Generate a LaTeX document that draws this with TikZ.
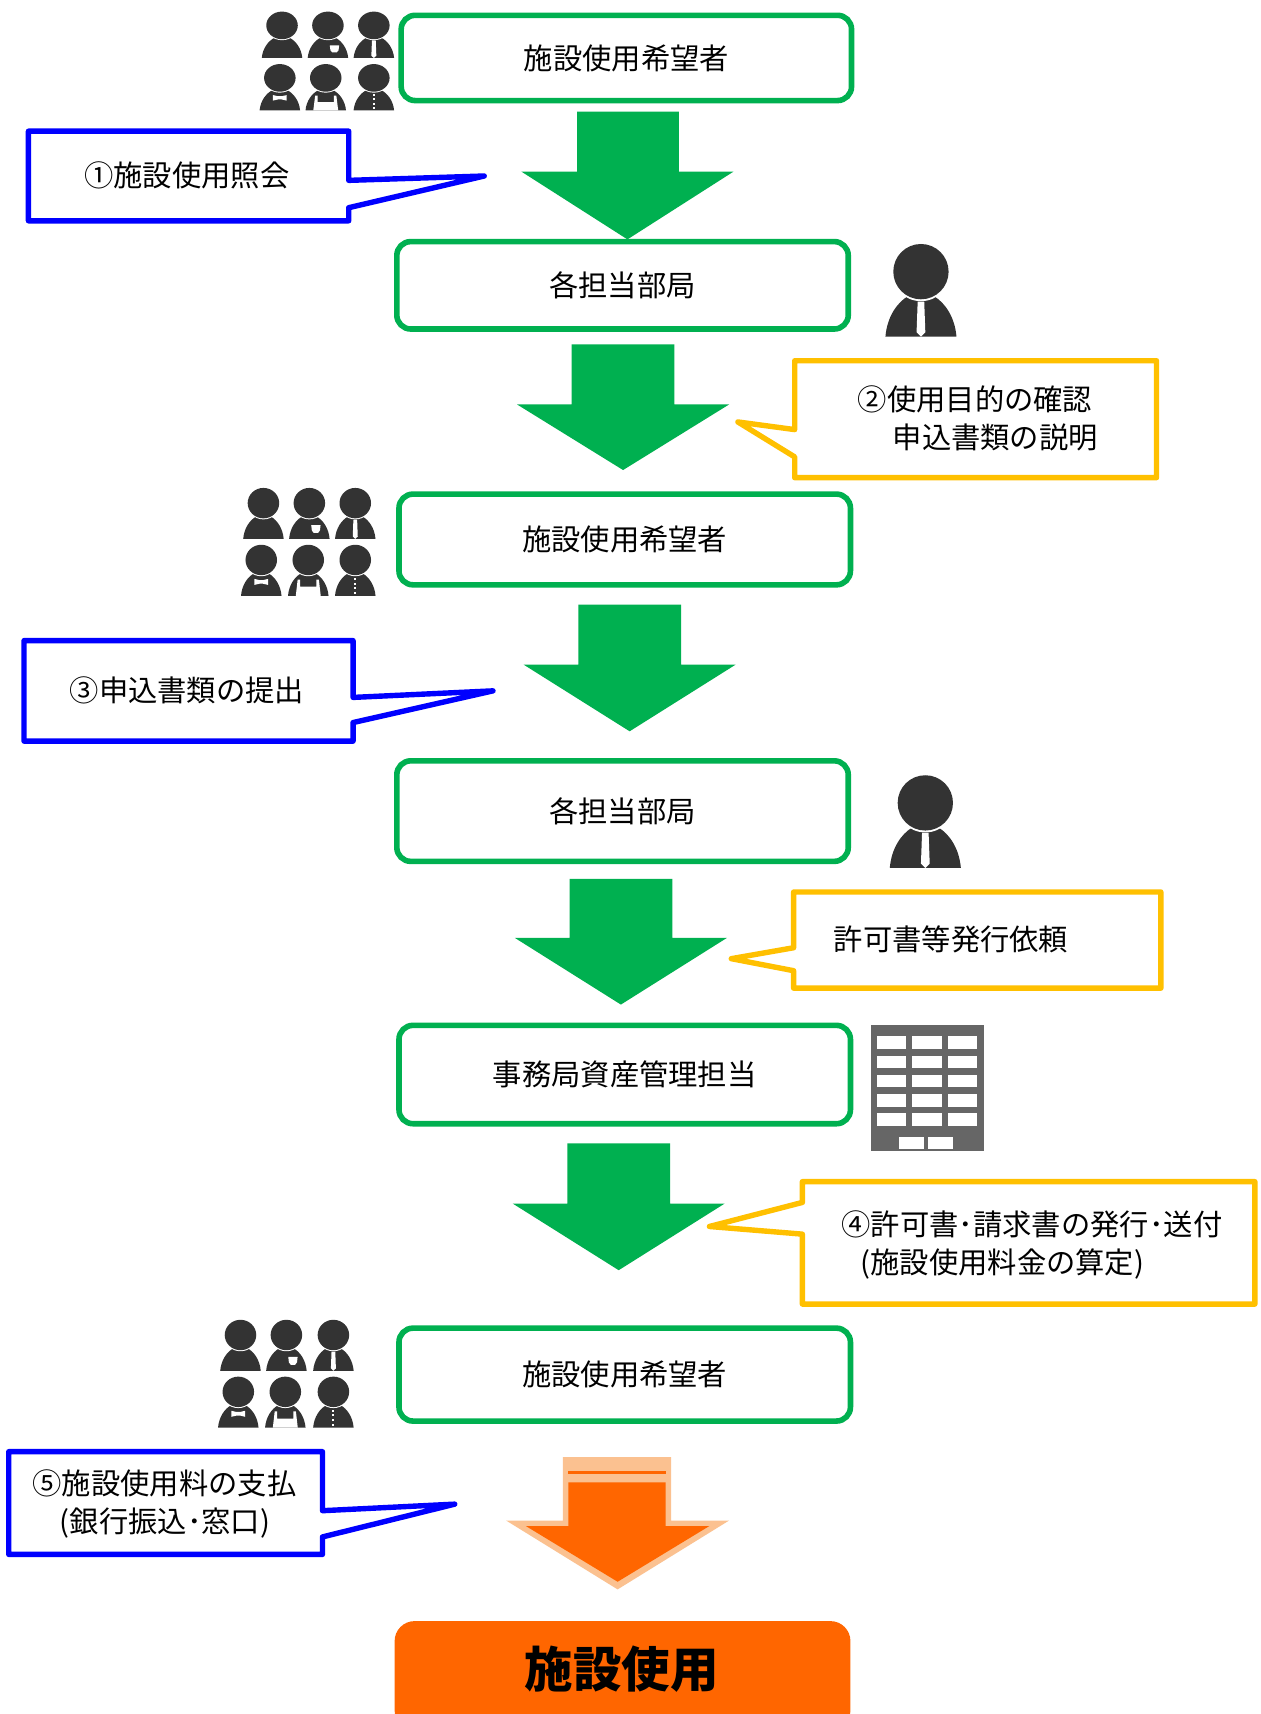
\documentclass[tikz,border=0pt]{standalone}
\usepackage{fontspec}
\setmainfont{Noto Sans CJK JP}
\definecolor{flowgreen}{HTML}{00B050}
\definecolor{callblue}{HTML}{0000FF}
\definecolor{callyellow}{HTML}{FFC000}
\definecolor{endorange}{HTML}{FF6600}
\definecolor{paleorange}{HTML}{FBC190}
\definecolor{figdark}{HTML}{333333}
\definecolor{bldg}{HTML}{666666}
\tikzset{
  x=1.0931pt,y=-1.0931pt,
  flowbox/.style={draw=flowgreen,line width=5.6pt,fill=white,rounded corners=14pt,inner sep=0pt,font=\fontsize{29.3}{34}\selectfont},
  endbox/.style={fill=endorange,rounded corners=20pt,inner sep=0pt},
  endtext/.style={inner sep=0pt,font=\fontsize{48.5}{54}\selectfont\bfseries},
  blockarrow/.style={fill=flowgreen},
  callb/.style={draw=callblue,line width=5.4pt,fill=white,line join=round},
  cally/.style={draw=callyellow,line width=5.4pt,fill=white,line join=round},
  calltext/.style={inner sep=0pt,font=\fontsize{29.3}{34}\selectfont},
  figure/.style={fill=figdark},
  figwhite/.style={fill=white},
}
% name, x1, y1, x2, y2, text
\newcommand\flowboxat[6]{\node[flowbox,minimum width={1.0931*(#4-#2)*1pt},minimum height={1.0931*(#5-#3)*1pt}] (#1) at ({(#2+#4)/2},{(#3+#5)/2}) {#6};}
% x left shaft, x right shaft, y top, y shoulder, x left head, x right head, x tip, y tip
\newcommand\flowdown[8]{\fill[blockarrow] (#1,#3) -- (#2,#3) -- (#2,#4) -- (#6,#4) -- (#7,#8) -- (#5,#4) -- (#1,#4) -- cycle;}
% kind 1 plain 2 badge 3 tie 4 bow 5 apron 6 buttons; x, ybottom, xscale, yscale
\newcommand\persona[5]{\begin{scope}[shift={(#2,#3)},xscale=#4,yscale=#5]
  \fill[figure] (-32.5,0) .. controls (-31,-18) and (-22,-31) .. (-12,-37) -- (12,-37) .. controls (22,-31) and (31,-18) .. (32.5,0) -- cycle;
  \fill[figwhite] (0,-59.5) circle (27);
  \fill[figure] (0,-59.5) circle (25.3);
  \ifcase#1\or
  \or \fill[figwhite] (3,-23) -- (18,-23) -- (17,-14) -- (14,-10) -- (7,-10) -- (4,-14) -- cycle;
  \or \fill[figwhite] (-3,-32) -- (3,-32) -- (4,-4) -- (0,0) -- (-4,-4) -- cycle;
  \or \fill[figwhite] (-11,-28) -- (-3,-26) -- (3,-26) -- (11,-28) -- (11,-18) -- (3,-20) -- (-3,-20) -- (-11,-18) -- cycle;
  \or \fill[figwhite] (-17,-27) -- (-13,-27) -- (-13,-15) -- (13,-15) -- (13,-27) -- (17,-27) -- (20,0) -- (-20,0) -- cycle;
  \or \foreach \q in {-30,-22,-14,-6}{\fill[figwhite] (-1.7,\q) rectangle (1.7,\q+3.4);}
  \fi
\end{scope}}
% x1 x2 x3 row 1, x1 x2 x3 row 2, bottom row 1, bottom row 2, yscale
\newcommand\crowd[9]{\persona{1}{#1}{#7}{.57}{#9}\persona{2}{#2}{#7}{.57}{#9}\persona{3}{#3}{#7}{.57}{#9}\persona{4}{#4}{#8}{.57}{#9}\persona{5}{#5}{#8}{.57}{#9}\persona{6}{#6}{#8}{.57}{#9}}
\begin{document}
\begin{tikzpicture}
\useasboundingbox (0,0) rectangle (1152.7,1568);
\clip (0,0) rectangle (1152.7,1568);
\fill[white] (0,0) rectangle (1152.7,1568);
% flow boxes
\flowboxat{b1}{367}{14}{779}{92}{施設使用希望者}
\flowboxat{b2}{363}{221}{776}{301}{各担当部局}
\flowboxat{b3}{365}{452}{778}{535}{施設使用希望者}
\flowboxat{b4}{363}{696}{776}{788}{各担当部局}
\flowboxat{b5}{365}{938}{778}{1028}{事務局資産管理担当}
\flowboxat{b6}{365}{1215}{778}{1300}{施設使用希望者}
\node[endbox,minimum width={1.0931*417*1pt},minimum height={1.0931*100*1pt}] (b7) at (569.5,1533) {};
\node[endtext] (b7t) at (569,1527) {施設使用};
% arrows
\flowdown{528}{621}{102}{157}{477}{671}{574}{219}
\flowdown{523}{617}{315}{370}{473}{667}{570}{430}
\flowdown{529}{623}{553}{608}{479}{673}{576}{669}
\flowdown{521}{615}{804}{858}{471}{665}{568}{919}
\flowdown{519}{613}{1046}{1101}{469}{663}{566}{1162}
% orange arrow
\fill[paleorange] (515,1333) -- (614,1333) -- (614,1391) -- (667,1391) -- (565,1454) -- (463,1391) -- (515,1391) -- cycle;
\fill[endorange] (520,1356) -- (609,1356) -- (609,1396) -- (649,1396) -- (565,1447) -- (481,1396) -- (520,1396) -- cycle;
\fill[endorange] (520,1345.5) rectangle (609,1348.5);
% callouts
\draw[callb] (26,120) -- (319,120) -- (319,165) -- (443,161) -- (319,190) -- (319,202) -- (26,202) -- cycle;
\node[calltext] (c1) at (171,160.5) {①施設使用照会};
\draw[callb] (22,586) -- (323,586) -- (323,638) -- (451,632) -- (323,661) -- (323,678) -- (22,678) -- cycle;
\node[calltext] (c3) at (171,632) {③申込書類の提出};
\draw[callb] (8,1328) -- (295,1328) -- (295,1382) -- (416,1376) -- (295,1406) -- (295,1422) -- (8,1422) -- cycle;
\node[calltext] (c5a) at (150.5,1357) {⑤施設使用料の支払};
\node[calltext] (c5b) at (151,1393) {(銀行振込･窓口)};
\draw[cally] (727,330) -- (1058,330) -- (1058,437) -- (727,437) -- (727,418) -- (675,386) -- (727,393) -- cycle;
\node[calltext] (c2a) at (892,365) {②使用目的の確認};
\node[calltext] (c2b) at (910.5,400) {申込書類の説明};
\draw[cally] (726,816) -- (1062,816) -- (1062,904) -- (726,904) -- (726,888) -- (669,877) -- (726,867) -- cycle;
\node[calltext] (cr) at (870,859) {許可書等発行依頼};
\draw[cally] (734,1081) -- (1148,1081) -- (1148,1193) -- (734,1193) -- (734,1129) -- (649,1122) -- (734,1100) -- cycle;
\node[calltext] (c4a) at (944,1120) {④許可書･請求書の発行･送付};
\node[calltext] (c4b) at (917,1156) {(施設使用料金の算定)};
% people
\crowd{258}{300}{342}{256}{298}{342}{53}{101}{.5}
\crowd{241}{283}{325}{239}{282}{325}{493}{545}{.55}
\crowd{220}{262}{305}{218}{261}{305}{1254}{1306}{.55}
\persona{3}{842.5}{308}{1}{1}
\persona{3}{846.5}{794}{1}{1}
% building
\fill[bldg] (796.5,938) rectangle (900,1053);
\foreach \wy in {0,1,2,3,4}{
  \foreach \wx in {0,1,2}{
    \fill[white] ({802+\wx*32.5},{948+\wy*17.6}) rectangle ({829+\wx*32.5},{959.5+\wy*17.6});
  }
}
\fill[white] (822,1040.5) rectangle (845,1051);
\fill[white] (849,1040.5) rectangle (872,1051);
\end{tikzpicture}
\end{document}
